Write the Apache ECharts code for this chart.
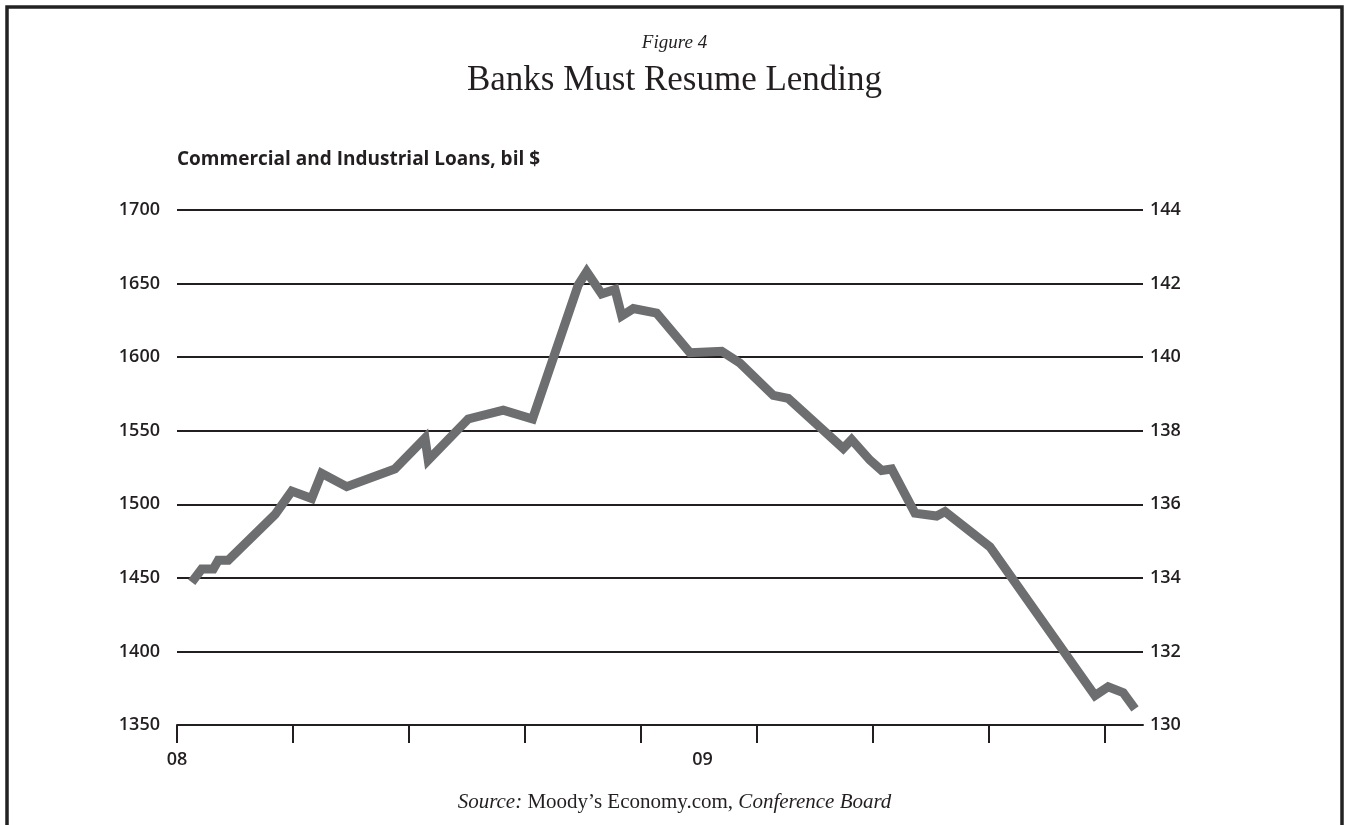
<!DOCTYPE html>
<html>
<head>
<meta charset="utf-8">
<script src="https://cdn.jsdelivr.net/npm/echarts@6/dist/echarts.min.js"></script>
<style>
html,body{margin:0;padding:0;background:#fff;}
#c{width:1349px;height:825px;}
</style>
</head>
<body>
<div id="c"></div>
<script>
// x positions in tick-interval units (0 = start of 2008), values in bil $
const xPos = [0.127,0.213,0.313,0.356,0.442,0.845,0.989,1.161,1.247,1.463,1.879,2.138,2.166,2.511,2.813,3.065,3.459,3.532,3.661,3.776,3.834,3.934,4.135,4.422,4.696,4.853,5.141,5.270,5.744,5.816,5.974,6.075,6.161,6.362,6.549,6.621,7.009,7.914,8.028,8.157,8.259];
const loans = [1447,1456,1456,1462,1462,1493,1509,1504,1521,1512,1524,1545,1530,1558,1564,1558,1649,1658,1643,1646,1628,1633,1630,1603,1604,1596,1574,1572,1538,1544,1530,1523,1524,1494,1492,1495,1471,1370,1376,1372,1361];
const xTicks = [0,1,2,3,4,5,6,7,8];
const xLabelPos = [0, 4.53];
const xLabelText = ['08', '09'];
const leftTicks = [1350,1400,1450,1500,1550,1600,1650,1700];
const rightTicks = [130,132,134,136,138,140,142,144];

const data = xPos.map((x, i) => [x, loans[i]]);
const ink = '#231f20';
const labelFont = {color: ink, fontFamily: 'Open Sans', fontWeight: 600, fontSize: 18};

const chart = echarts.init(document.getElementById('c'), null, {renderer: 'canvas'});
chart.setOption({
  backgroundColor: '#fff',
  animation: false,
  title: [
    {text: 'Figure 4', left: 'center', top: 28,
     textStyle: {fontFamily: 'Liberation Serif', fontStyle: 'italic', fontWeight: 'normal', fontSize: 19, color: ink}},
    {text: 'Banks Must Resume Lending', left: 'center', top: 58,
     textStyle: {fontFamily: 'Liberation Serif', fontWeight: 'normal', fontSize: 35, color: ink}},
    {text: 'Commercial and Industrial Loans, bil $', left: 172, top: 145,
     textStyle: {fontFamily: 'Open Sans', fontWeight: 700, fontSize: 19, color: ink}},
    {text: '{i|Source:} Moody\u2019s Economy.com, {i|Conference Board}', left: 'center', top: 787,
     textStyle: {fontFamily: 'Liberation Serif', fontWeight: 'normal', fontSize: 21, color: ink,
       rich: {i: {fontFamily: 'Liberation Serif', fontStyle: 'italic', fontSize: 21, color: ink}}}}
  ],
  graphic: [
    {type: 'polyline', silent: true, z: 100,
     shape: {points: [[7, 825], [7, 7], [1342, 7], [1342, 825]]},
     style: {stroke: '#222', lineWidth: 3.5, fill: null}}
  ],
  grid: {left: 177, right: 206, top: 210, bottom: 100, containLabel: false},
  xAxis: {
    type: 'value', min: 0, max: 8.328, interval: 1,
    axisLine: {show: true, lineStyle: {color: ink, width: 2}},
    axisTick: {show: true, customValues: xTicks, length: 18, inside: false, lineStyle: {color: ink, width: 2}},
    axisLabel: Object.assign({customValues: xLabelPos, margin: 26, formatter: v => {
      const i = xLabelPos.findIndex(p => Math.abs(p - v) < 1e-6);
      return i >= 0 ? xLabelText[i] : '';
    }}, labelFont),
    splitLine: {show: false}
  },
  yAxis: [
    {type: 'value', min: 1350, max: 1700, interval: 50, position: 'left',
     axisLine: {show: false}, axisTick: {show: false},
     axisLabel: Object.assign({margin: 17, formatter: v => String(v)}, labelFont),
     splitLine: {show: true, lineStyle: {color: ink, width: 2}}},
    {type: 'value', min: 130, max: 144, interval: 2, position: 'right',
     axisLine: {show: false}, axisTick: {show: false},
     axisLabel: Object.assign({margin: 7, formatter: v => String(v)}, labelFont),
     splitLine: {show: false}}
  ],
  series: [{
    type: 'line', yAxisIndex: 0, data: data, showSymbol: false, symbol: 'none',
    lineStyle: {color: '#6d6e70', width: 9, join: 'miter', cap: 'butt'}, z: 5
  }]
});
</script>
</body>
</html>
